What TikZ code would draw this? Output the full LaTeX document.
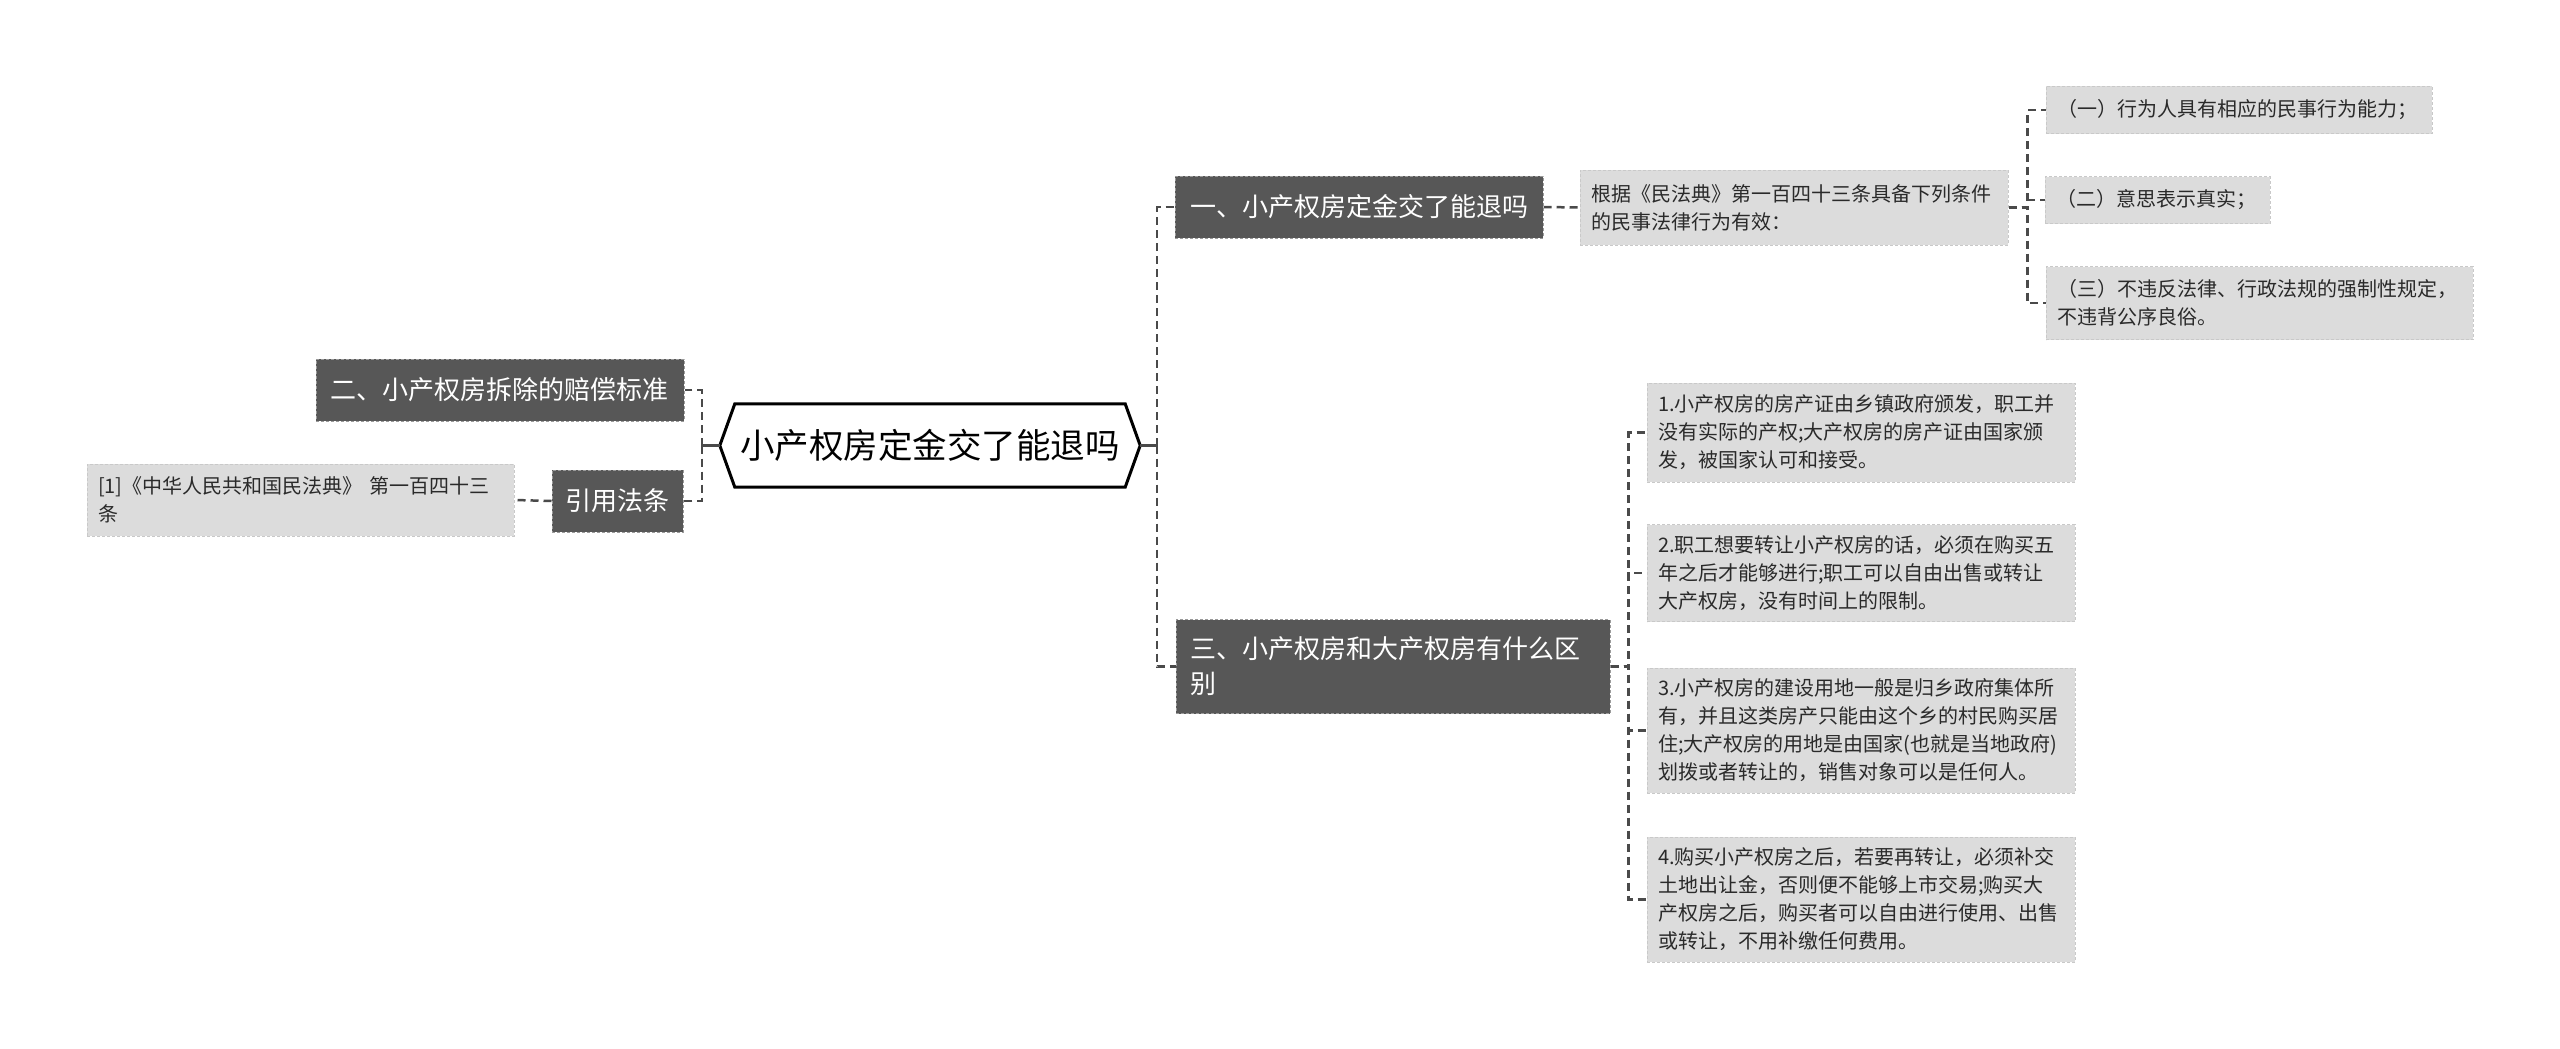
\documentclass[tikz,border=0pt]{standalone}
\usepackage{fontspec}
\setmainfont{Noto Sans CJK SC}
\usetikzlibrary{calc}
\definecolor{darkbox}{HTML}{575757}
\definecolor{darkedge}{HTML}{9A9A9A}
\definecolor{leafbox}{HTML}{DCDCDC}
\definecolor{leafedge}{HTML}{C9C9C9}
\definecolor{linkgray}{HTML}{4A4A4A}
\definecolor{leaftext}{HTML}{2A2A2A}
\tikzset{
  darknode/.style={fill=darkbox, draw=darkedge, line width=1pt, dash pattern=on 3pt off 2pt,
    text=white, font=\fontsize{26}{35}\selectfont, inner xsep=14pt, inner ysep=0pt, align=left},
  leafnode/.style={fill=leafbox, draw=leafedge, line width=1pt, dash pattern=on 3pt off 2pt,
    text=leaftext, font=\fontsize{20}{28}\selectfont, inner xsep=11pt, inner ysep=0pt, align=left},
  link/.style={draw=linkgray, line width=2.5pt, dash pattern=on 8pt off 5pt},
  stub/.style={draw=linkgray, line width=3pt}
}
\begin{document}
\begin{tikzpicture}[x=1pt,y=-1pt]
\useasboundingbox (0,0) rectangle (2560,1049);

% root
\node (root) [minimum width=420pt, minimum height=83pt, inner sep=0pt,
  font=\fontsize{34.5}{40}\selectfont, text=black] at (930,445.5) {小产权房定金交了能退吗};
\draw[line width=3pt, line join=miter] (root.west) -- ($(root.north west)+(15,0)$)
  -- ($(root.north east)+(-15,0)$) -- (root.east) -- ($(root.south east)+(-15,0)$)
  -- ($(root.south west)+(15,0)$) -- cycle;

% left side
\node (n2) [darknode, text width=340pt, minimum height=62pt] at (500,390) {二、小产权房拆除的赔偿标准};
\node (cite) [darknode, text width=104pt, inner xsep=13.5pt, minimum height=62pt] at (617.5,501) {引用法条};
\node (citeleaf) [leafnode, text width=405pt, minimum height=72pt] at (300.5,500)
  {[1]《中华人民共和国民法典》 第一百四十三\\条};

% right side, branch one
\node (n1) [darknode, text width=338pt, inner xsep=15pt, minimum height=62pt] at (1359,207) {一、小产权房定金交了能退吗};
\node (leafA) [leafnode, text width=406pt, minimum height=75pt] at (1794,207.5)
  {根据《民法典》第一百四十三条具备下列条件\\的民事法律行为有效：};
\node (a1) [leafnode, text width=364pt, minimum height=47pt] at (2239,110) {（一）行为人具有相应的民事行为能力；};
\node (a2) [leafnode, text width=203pt, minimum height=47pt] at (2157.5,200) {（二）意思表示真实；};
\node (a3) [leafnode, text width=405pt, minimum height=73pt] at (2259.5,303)
  {（三）不违反法律、行政法规的强制性规定，\\不违背公序良俗。};

% right side, branch three
\node (n3) [darknode, text width=406pt, minimum height=94pt] at (1393,666.5)
  {三、小产权房和大产权房有什么区\\别};
\node (b1) [leafnode, text width=406pt, minimum height=99pt] at (1861,432.5)
  {1.小产权房的房产证由乡镇政府颁发，职工并\\没有实际的产权;大产权房的房产证由国家颁\\发，被国家认可和接受。};
\node (b2) [leafnode, text width=406pt, minimum height=97pt] at (1861,573)
  {2.职工想要转让小产权房的话，必须在购买五\\年之后才能够进行;职工可以自由出售或转让\\大产权房，没有时间上的限制。};
\node (b3) [leafnode, text width=406pt, minimum height=125pt] at (1861,730.5)
  {3.小产权房的建设用地一般是归乡政府集体所\\有，并且这类房产只能由这个乡的村民购买居\\住;大产权房的用地是由国家(也就是当地政府)\\划拨或者转让的，销售对象可以是任何人。};
\node (b4) [leafnode, text width=406pt, minimum height=125pt] at (1861,899.5)
  {4.购买小产权房之后，若要再转让，必须补交\\土地出让金，否则便不能够上市交易;购买大\\产权房之后，购买者可以自由进行使用、出售\\或转让，不用补缴任何费用。};

% bus junctions
\coordinate (lbus) at ($(root.west)+(-18,0)$);
\coordinate (rbus) at ($(root.east)+(17,0)$);

% connectors
\draw[stub] (root.west) -- (lbus);
\draw[link] (lbus) |- (n2.east);
\draw[link] (lbus) |- (cite.east);
\draw[link] (cite.west) -- (citeleaf.east);

\draw[stub] (root.east) -- (rbus);
\draw[link] (rbus) |- (n1.west);
\draw[link] (rbus) |- (n3.west);
\draw[link] (n1.east) -- (leafA.west);
\draw[link] (leafA.east) -- ++(19,0) |- (a1.west);
\draw[link] (leafA.east) -- ++(19,0) |- (a2.west);
\draw[link] (leafA.east) -- ++(19,0) |- (a3.west);

\draw[link] (n3.east) -- ++(18,0) |- (b1.west);
\draw[link] (n3.east) -- ++(18,0) |- (b2.west);
\draw[link] (n3.east) -- ++(18,0) |- (b3.west);
\draw[link] (n3.east) -- ++(18,0) |- (b4.west);
\end{tikzpicture}
\end{document}
